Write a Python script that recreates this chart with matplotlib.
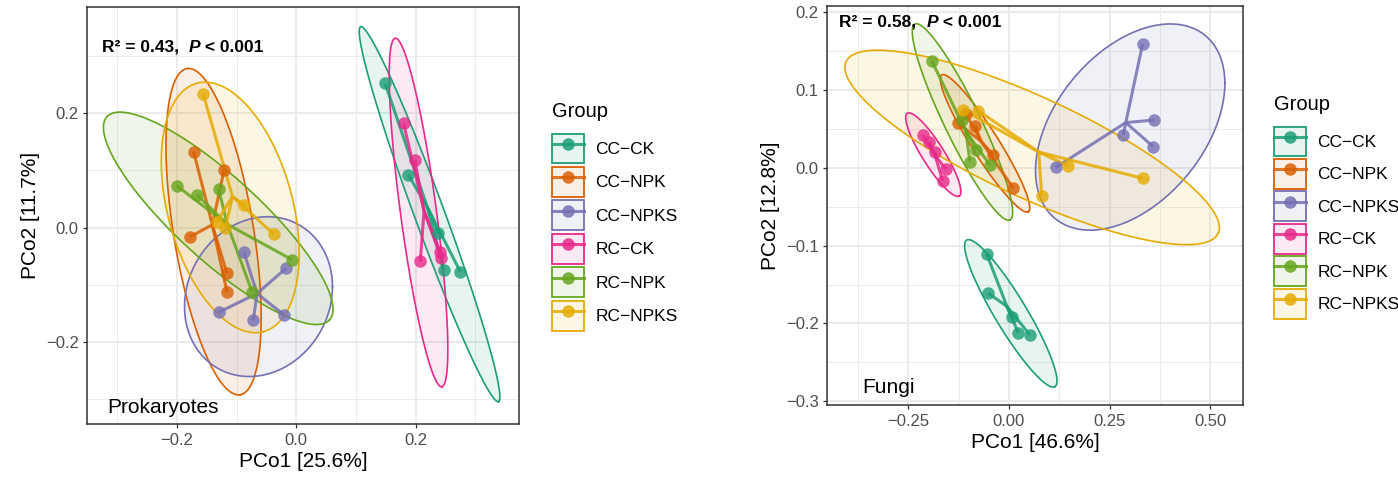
import matplotlib
matplotlib.use('Agg')
import matplotlib.pyplot as plt
import numpy as np
from matplotlib.patches import Patch
from matplotlib.lines import Line2D
from matplotlib.legend_handler import HandlerTuple

plt.rcParams['font.family'] = ['Liberation Sans', 'DejaVu Sans']

groups = ['CC\u2212CK', 'CC\u2212NPK', 'CC\u2212NPKS', 'RC\u2212CK', 'RC\u2212NPK', 'RC\u2212NPKS']
colors = ['#1B9E77', '#D95F02', '#7570B3', '#E7298A', '#66A61E', '#E6AB02']

# Prokaryotes, one list per group
pro_pc1 = [[0.149, 0.188, 0.238, 0.247, 0.275],
           [-0.172, -0.121, -0.178, -0.116, -0.116],
           [-0.088, -0.017, -0.130, -0.072, -0.021],
           [0.180, 0.199, 0.208, 0.241, 0.243],
           [-0.200, -0.166, -0.130, -0.007, -0.074],
           [-0.156, -0.088, -0.038, -0.133, -0.119]]
pro_pc2 = [[0.252, 0.092, -0.010, -0.074, -0.077],
           [0.133, 0.100, -0.016, -0.080, -0.112],
           [-0.042, -0.071, -0.148, -0.162, -0.152],
           [0.182, 0.118, -0.059, -0.042, -0.053],
           [0.073, 0.057, 0.067, -0.056, -0.112],
           [0.234, 0.040, -0.011, 0.010, -0.001]]
# ellipse: centre, semi-axis vector, conjugate semi-axis vector (data units)
pro_ell_center = [(0.2235, 0.0235), (-0.1385, -0.007), (-0.0632, -0.1205),
                  (0.205, 0.0265), (-0.1307, 0.0163), (-0.1106, 0.0353)]
pro_ell_major = [(0.1155, -0.3275), (0.0445, -0.285), (0.124, 0.0175),
                 (0.039, -0.3045), (0.1865, -0.1775), (0.0558, -0.217)]
pro_ell_minor = [(0.0236, 0.0091), (0.0662, 0.0112), (0.0, 0.1385),
                 (0.0299, 0.0042), (0.0474, 0.0541), (0.1012, 0.0283)]

# Fungi
fun_pc1 = [[-0.0554, -0.0514, 0.0067, 0.0231, 0.0522],
           [-0.1260, -0.1069, -0.0845, -0.0390, 0.0107],
           [0.3323, 0.3603, 0.3586, 0.2840, 0.1168],
           [-0.2145, -0.1981, -0.1839, -0.1566, -0.1648],
           [-0.1921, -0.0969, -0.0472, -0.1175, -0.0820],
           [0.3323, 0.1474, 0.0813, -0.1136, -0.0763]]
fun_pc2 = [[-0.1108, -0.1612, -0.1920, -0.2118, -0.2148],
           [0.0570, 0.0689, 0.0535, 0.0163, -0.0264],
           [0.1588, 0.0612, 0.0270, 0.0420, 0.0005],
           [0.0420, 0.0334, 0.0205, -0.0021, -0.0167],
           [0.1374, 0.0077, 0.0035, 0.0612, 0.0227],
           [-0.0136, 0.0022, -0.0359, 0.0741, 0.0732]]
fun_ell_center = [(0.0046, -0.1870), (-0.0596, 0.0313), (0.3014, 0.0522),
                  (-0.1881, 0.0168), (-0.1156, 0.0587), (0.0575, 0.0260)]
fun_ell_major = [(0.1097, -0.0941), (0.1076, -0.0878), (0.2353, 0.0561),
                 (0.0646, -0.0531), (0.1181, -0.1258), (0.4626, -0.1102)]
fun_ell_minor = [(0.0341, 0.0106), (0.0281, 0.0092), (0.0, 0.1199),
                 (0.0231, 0.0076), (0.0403, 0.0100), (0.0524, 0.0587)]


def draw_pcoa(ax, pc1, pc2, centers, majors, minors):
    t = np.linspace(0, 2 * np.pi, 300)
    for c, a, b, col in zip(centers, majors, minors, colors):
        ex = c[0] + a[0] * np.cos(t) + b[0] * np.sin(t)
        ey = c[1] + a[1] * np.cos(t) + b[1] * np.sin(t)
        ax.fill(ex, ey, color=col, alpha=0.1, lw=0, zorder=2)
        ax.plot(ex, ey, color=col, lw=1.2, zorder=3)
    for xs, ys, col in zip(pc1, pc2, colors):
        mx, my = np.mean(xs), np.mean(ys)
        for x, y in zip(xs, ys):
            ax.plot([mx, x], [my, y], color=col, lw=2.2, alpha=0.85,
                    solid_capstyle='butt', zorder=4)
    for xs, ys, col in zip(pc1, pc2, colors):
        ax.plot(xs, ys, 'o', color=col, ms=9, alpha=0.8, mec='none', zorder=5)


def style_axes(ax):
    ax.set_facecolor('white')
    ax.grid(True, which='major', color='#EBEBEB', lw=1.4, zorder=0)
    ax.grid(True, which='minor', color='#EBEBEB', lw=0.7, zorder=0)
    ax.set_axisbelow(True)
    for s in ax.spines.values():
        s.set_color('#333333')
        s.set_linewidth(1.1)
    ax.tick_params(which='major', length=3.2, width=0.9, color='#333333',
                   labelsize=12, labelcolor='#4D4D4D', pad=3)
    ax.tick_params(which='minor', length=0)


def add_legend(fig, anchor, spacing):
    handles = []
    for col in colors:
        box = Patch(facecolor=matplotlib.colors.to_rgba(col, 0.1), edgecolor=col, lw=1.3)
        ln = Line2D([], [], color=col, lw=2.2, marker='o', ms=9, alpha=0.85, mec='none')
        handles.append((box, ln))
    leg = fig.legend(handles, groups, loc='upper left', bbox_to_anchor=anchor,
                     handler_map={tuple: HandlerTuple(ndivide=1, pad=0)},
                     frameon=False, fontsize=12.5, title='Group', title_fontsize=14.5,
                     handlelength=1.85, handleheight=2.28, labelspacing=spacing,
                     handletextpad=0.65, borderpad=0, borderaxespad=0, numpoints=1)
    leg._legend_box.align = 'left'
    leg._legend_box.sep = 9
    return leg


def stat_text(ax, x, y, r2):
    t1 = ax.text(x, y, 'R\u00b2 = ' + r2 + ',  ', transform=ax.transAxes,
                 fontsize=12.5, fontweight='bold', va='baseline', zorder=6)
    t2 = ax.annotate('P', xy=(1, 0), xycoords=t1, va='bottom', fontsize=12.5,
                     fontweight='bold', style='italic', zorder=6)
    ax.annotate(' < 0.001', xy=(1, 0), xycoords=t2, va='bottom', fontsize=12.5,
                fontweight='bold', zorder=6)


fig = plt.figure(figsize=(13.98, 4.78), dpi=100)

ax1 = fig.add_axes([0.0625, 0.1130, 0.3090, 0.8730])
style_axes(ax1)
draw_pcoa(ax1, pro_pc1, pro_pc2, pro_ell_center, pro_ell_major, pro_ell_minor)
ax1.set_xlim(-0.350, 0.374)
ax1.set_ylim(-0.343, 0.386)
ax1.set_xticks([-0.2, 0.0, 0.2])
ax1.set_xticks([-0.3, -0.1, 0.1, 0.3], minor=True)
ax1.set_yticks([-0.2, 0.0, 0.2])
ax1.set_yticks([-0.3, -0.1, 0.1, 0.3], minor=True)
ax1.set_xticklabels(['\u22120.2', '0.0', '0.2'])
ax1.set_yticklabels(['\u22120.2', '0.0', '0.2'])
ax1.set_xlabel('PCo1 [25.6%]', fontsize=15, labelpad=3)
ax1.set_ylabel('PCo2 [11.7%]', fontsize=15, labelpad=4)
stat_text(ax1, 0.033, 0.892, '0.43')
ax1.text(0.045, 0.027, 'Prokaryotes', transform=ax1.transAxes, fontsize=15,
         va='baseline', zorder=6)

ax2 = fig.add_axes([0.5918, 0.1517, 0.2971, 0.8364])
style_axes(ax2)
draw_pcoa(ax2, fun_pc1, fun_pc2, fun_ell_center, fun_ell_major, fun_ell_minor)
ax2.set_xlim(-0.4515, 0.581)
ax2.set_ylim(-0.3053, 0.208)
ax2.set_xticks([-0.25, 0.0, 0.25, 0.5])
ax2.set_xticks([-0.375, -0.125, 0.125, 0.375], minor=True)
ax2.set_yticks([-0.3, -0.2, -0.1, 0.0, 0.1, 0.2])
ax2.set_yticks([-0.25, -0.15, -0.05, 0.05, 0.15], minor=True)
ax2.set_xticklabels(['\u22120.25', '0.00', '0.25', '0.50'])
ax2.set_yticklabels(['\u22120.3', '\u22120.2', '\u22120.1', '0.0', '0.1', '0.2'])
ax2.set_xlabel('PCo1 [46.6%]', fontsize=15, labelpad=3)
ax2.set_ylabel('PCo2 [12.8%]', fontsize=15, labelpad=4)
stat_text(ax2, 0.029, 0.9475, '0.58')
ax2.text(0.085, 0.0305, 'Fungi', transform=ax2.transAxes, fontsize=15,
         va='baseline', zorder=6)

add_legend(fig, (0.3948, 1 - 102 / 478), 0.2)
add_legend(fig, (0.9113, 1 - 95 / 478), 0.14)

fig.savefig('out.png', dpi=100, facecolor='white')
